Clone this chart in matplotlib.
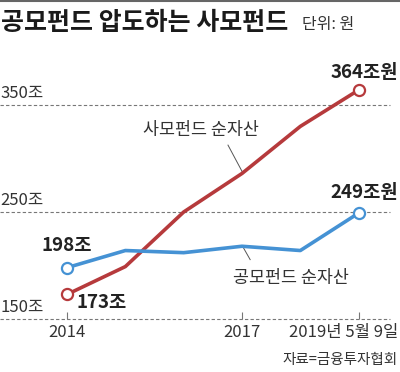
import matplotlib
matplotlib.use('Agg')
import matplotlib.pyplot as plt
from matplotlib.lines import Line2D

plt.rcParams['font.family'] = ['Liberation Sans Narrow', 'Noto Sans CJK KR', 'DejaVu Sans']

# data (조원)
years = [2014, 2015, 2016, 2017, 2018, 2019]
private_fund = [173, 199, 250, 286, 330, 364]
public_fund = [198, 214, 212, 218, 214, 249]
xtick_labels = ['2014', '2017', '2019년 5월 9일']
xtick_idx = [0, 3, 5]
ygrid = [150, 250, 350]

red = '#b63a3c'
blue = '#4592d4'
dark = '#222222'
grey = '#333333'

fig = plt.figure(figsize=(4, 3.72), dpi=100)
ax = fig.add_axes([0, 0, 1, 1])
ax.set_xlim(-1.149, 5.709)
ax.set_ylim(100.5, 448.1)
ax.axis('off')

x = list(range(len(years)))

# gridlines + y labels
for g in ygrid:
    ax.hlines(g, -1.149, 5.54, colors='#777777', linestyles=(0, (3, 2)), linewidth=0.8)
    ax.text(-1.14, g + 11, f'{g}조', ha='left', va='center', fontsize=12, color=grey)

# x ticks
for i in xtick_idx:
    ax.vlines(i, 150, 156.5, colors='#777777', linewidth=0.8)
for i, lab in zip(xtick_idx, xtick_labels):
    if i == 5:
        ax.text(5.675, 137, lab, ha='right', va='center', fontsize=12, color=grey)
    else:
        ax.text(i, 137, lab, ha='center', va='center', fontsize=12, color=grey)

# lines
ax.plot(x, private_fund, color=red, linewidth=2.6, solid_capstyle='round', zorder=3)
ax.plot(x, public_fund, color=blue, linewidth=2.6, solid_capstyle='round', zorder=3)
for s, c in [(private_fund, red), (public_fund, blue)]:
    ax.plot([x[0], x[-1]], [s[0], s[-1]], 'o', color=c, markersize=8,
            markerfacecolor='white', markeredgewidth=1.6, zorder=4)

# value labels
ax.text(5.675, 380, f'{private_fund[-1]}조원', ha='right', va='center',
        fontsize=13.5, fontweight='bold', color=dark)
ax.text(5.675, 268.5, f'{public_fund[-1]}조원', ha='right', va='center',
        fontsize=13.5, fontweight='bold', color=dark)
ax.text(0.0, 219, f'{public_fund[0]}조', ha='center', va='center',
        fontsize=13.5, fontweight='bold', color=dark)
ax.text(0.17, 165, f'{private_fund[0]}조', ha='left', va='center',
        fontsize=13.5, fontweight='bold', color=dark)

# series labels with leader lines
ax.text(1.30, 327, '사모펀드 순자산', ha='left', va='center', fontsize=12.5, color=grey)
ax.plot([2.76, 3.02], [312.5, 286], color='#555555', linewidth=0.7)
ax.text(2.85, 188.5, '공모펀드 순자산', ha='left', va='center', fontsize=12.5, color=grey)
ax.plot([3.02, 3.14], [217, 205.5], color='#555555', linewidth=0.7)

# title, unit, source
fig.text(0.003, 1 - 23 / 372, '공모펀드 압도하는 사모펀드', ha='left', va='center',
         fontsize=18, fontweight='bold', color='#1a1a1a')
fig.text(302 / 400, 1 - 24 / 372, '단위: 원', ha='left', va='center',
         fontsize=11.5, color=grey)
ax.text(5.675, 111.7, '자료=금융투자협회', ha='right', va='center', fontsize=10.5, color=grey)
fig.add_artist(Line2D([0, 1], [0.998, 0.998], color='#666666', linewidth=1.5,
                      transform=fig.transFigure))

fig.savefig('out.png', dpi=100)
